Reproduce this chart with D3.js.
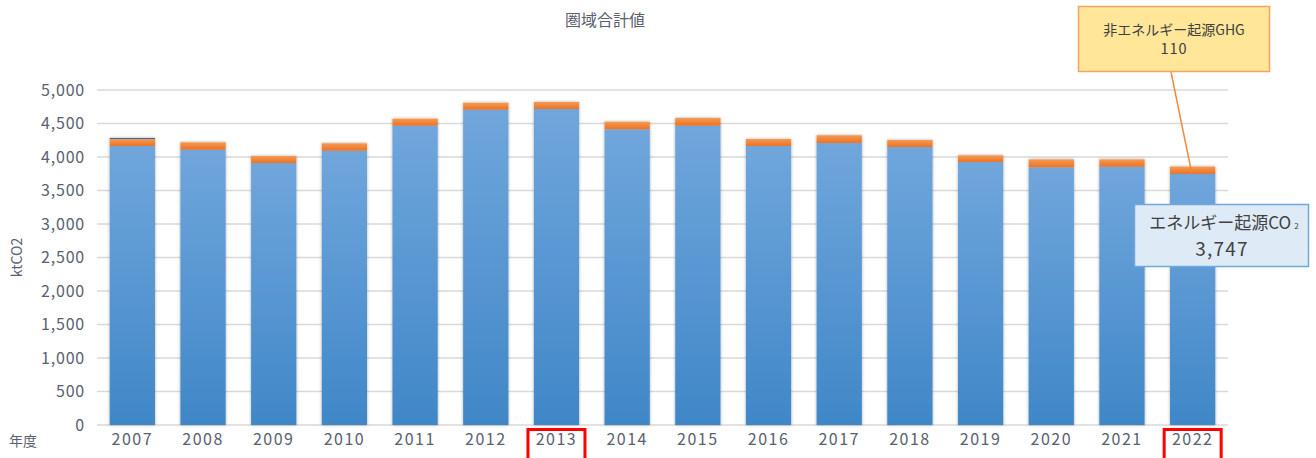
<!DOCTYPE html>
<html lang="ja">
<head>
<meta charset="UTF-8" />
<title>圏域合計値</title>
<style>
  body { margin: 0; background: #fff; }
  text { font-family: "Noto Sans CJK JP", "Noto Sans", sans-serif; }
</style>
</head>
<body>
<svg id="svg" width="1316" height="458"></svg>
<script src="https://d3js.org/d3.v7.min.js"></script>
<script>
// Data
const years = ['2007', '2008', '2009', '2010', '2011', '2012', '2013', '2014',
  '2015', '2016', '2017', '2018', '2019', '2020', '2021', '2022'];
const energyCO2 = [4164, 4109, 3910, 4094, 4467, 4706, 4716, 4413,
  4467, 4164, 4209, 4149, 3925, 3846, 3855, 3747];
const nonEnergyGHG = [105, 110, 105, 110, 105, 104, 105, 114,
  115, 105, 115, 105, 100, 119, 110, 110];
const otherGas = [15, 0, 0, 0, 0, 0, 0, 0, 0, 0, 0, 0, 0, 0, 0, 0];
const yTicks = [0, 500, 1000, 1500, 2000, 2500, 3000, 3500, 4000, 4500, 5000];
const highlightYears = ['2013', '2022'];
const calloutYear = '2022';

const plotLeft = 97, plotRight = 1228, plotTop = 90, plotBottom = 425;
const labelColor = '#596170';

const svg = d3.select('#svg');

const rows = years.map((y, i) => ({
  year: y, energy: energyCO2[i], ghg: nonEnergyGHG[i], other: otherGas[i]
}));
const keys = ['energy', 'ghg', 'other'];
const stack = d3.stack().keys(keys)(rows);

const xscale = d3.scaleBand().domain(years).range([plotLeft, plotRight]).paddingInner(0.36).paddingOuter(0.18);
const yscale = d3.scaleLinear().domain([0, 5000]).range([plotBottom, plotTop]);

// defs: gradients + shadow
const defs = svg.append('defs');
const gBlue = defs.append('linearGradient').attr('id', 'gBlue').attr('x1', 0).attr('y1', 0).attr('x2', 0).attr('y2', 1);
gBlue.append('stop').attr('offset', '0%').attr('stop-color', '#70a6dc');
gBlue.append('stop').attr('offset', '100%').attr('stop-color', '#3f87c7');
const gOrange = defs.append('linearGradient').attr('id', 'gOrange').attr('x1', 0).attr('y1', 0).attr('x2', 0).attr('y2', 1);
gOrange.append('stop').attr('offset', '0%').attr('stop-color', '#f59a52');
gOrange.append('stop').attr('offset', '100%').attr('stop-color', '#ec7224');
const shadow = defs.append('filter').attr('id', 'shadow').attr('x', '-20%').attr('y', '-20%').attr('width', '140%').attr('height', '140%');
shadow.append('feDropShadow').attr('dx', 0).attr('dy', 0).attr('stdDeviation', 1.4)
  .attr('flood-color', '#000').attr('flood-opacity', 0.35);

const colors = { energy: 'url(#gBlue)', ghg: 'url(#gOrange)', other: '#2e6db0' };

// Title
svg.append('text').attr('x', 605).attr('y', 26).attr('text-anchor', 'middle')
  .attr('font-size', 16).attr('fill', labelColor).text('圏域合計値');

// Grid
svg.append('g').selectAll('line').data(yTicks).join('line')
  .attr('x1', plotLeft).attr('x2', plotRight)
  .attr('y1', d => yscale(d)).attr('y2', d => yscale(d))
  .attr('stroke', '#d9d9d9').attr('stroke-width', 1.5);

// Y axis labels
const leftAxis = d3.axisLeft(yscale).tickValues(yTicks).tickFormat(d3.format(',')).tickSize(0).tickPadding(12);
svg.append('g').attr('transform', `translate(${plotLeft},0)`).call(leftAxis)
  .call(g => g.select('.domain').remove())
  .call(g => g.selectAll('text').attr('font-size', 16).attr('fill', labelColor)
    .attr('letter-spacing', 0.8)
    .attr('font-family', '"Noto Sans CJK JP", sans-serif'));

// Y axis title
svg.append('text').attr('transform', `translate(22,${(plotTop + plotBottom) / 2}) rotate(-90)`)
  .attr('text-anchor', 'middle').attr('font-size', 14).attr('fill', labelColor).text('ktCO2');

// Bars
const barG = svg.append('g').attr('filter', 'url(#shadow)');
stack.forEach(s => {
  barG.append('g').selectAll('rect').data(s.filter(d => d[1] > d[0])).join('rect')
    .attr('x', d => xscale(d.data.year))
    .attr('width', xscale.bandwidth())
    .attr('y', d => yscale(d[1]))
    .attr('height', d => yscale(d[0]) - yscale(d[1]))
    .attr('fill', colors[s.key]);
});

// X axis labels
const bottomAxis = d3.axisBottom(xscale).tickSize(0).tickPadding(9);
svg.append('g').attr('transform', `translate(0,${plotBottom})`).call(bottomAxis)
  .call(g => g.select('.domain').remove())
  .call(g => g.selectAll('text').attr('font-size', 16).attr('fill', labelColor)
    .attr('letter-spacing', 1.5)
    .attr('font-family', '"Noto Sans CJK JP", sans-serif'));

svg.append('text').attr('x', 9).attr('y', 446).attr('font-size', 14).attr('fill', labelColor).text('年度');

// Highlight boxes
svg.append('g').selectAll('rect').data(highlightYears).join('rect')
  .attr('x', d => xscale(d) + xscale.bandwidth() / 2 - 28.5)
  .attr('y', 429.5).attr('width', 57).attr('height', 32)
  .attr('fill', 'none').attr('stroke', '#ff0000').attr('stroke-width', 3);

// Callouts
const ci = years.indexOf(calloutYear);
const cx = xscale(calloutYear) + xscale.bandwidth() / 2;
const topOfBar = yscale(energyCO2[ci] + nonEnergyGHG[ci]);

svg.append('line').attr('x1', 1171).attr('y1', 72).attr('x2', cx - 1).attr('y2', topOfBar + 6)
  .attr('stroke', '#f08a3c').attr('stroke-width', 1.5);

svg.append('rect').attr('x', 1078.5).attr('y', 6.5).attr('width', 191).attr('height', 65)
  .attr('fill', '#ffe699').attr('stroke', '#f4a460').attr('stroke-width', 1.5);
svg.append('text').attr('x', 1174).attr('y', 35).attr('text-anchor', 'middle')
  .attr('font-size', 14).attr('fill', '#404040').text('非エネルギー起源GHG');
svg.append('text').attr('x', 1174).attr('y', 54).attr('text-anchor', 'middle')
  .attr('font-size', 14.5).attr('letter-spacing', 1).attr('fill', '#404040').text(d3.format(',')(nonEnergyGHG[ci]));

svg.append('rect').attr('x', 1134.5).attr('y', 204.5).attr('width', 174).attr('height', 62)
  .attr('fill', '#deebf7').attr('stroke', '#6fa8dc').attr('stroke-width', 1.5);
const t1 = svg.append('text').attr('x', 1224).attr('y', 229).attr('text-anchor', 'middle')
  .attr('font-size', 17).attr('fill', '#404040');
t1.append('tspan').text('エネルギー起源CO');
t1.append('tspan').attr('font-size', 8).attr('dx', 3).text('2');
svg.append('text').attr('x', 1222).attr('y', 256).attr('text-anchor', 'middle')
  .attr('font-size', 19).attr('letter-spacing', 1.2).attr('fill', '#404040').text(d3.format(',')(energyCO2[ci]));
</script>
</body>
</html>
